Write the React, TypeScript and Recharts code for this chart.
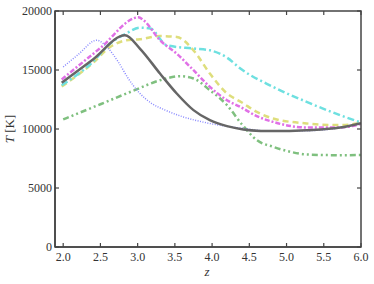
import React from "react";
import { LineChart, Line, XAxis, YAxis } from "recharts";

const grayZ = [1.98, 2.4, 2.83, 3.03, 3.3, 3.525, 3.75, 3.97, 4.2, 4.42, 4.65, 4.82, 5.27, 5.72, 6.0];
const grayT = [13910, 15900, 17940, 16820, 14700, 13010, 11600, 10750, 10240, 9960, 9840, 9820, 9900, 10130, 10500];

const blueZ = [2.0, 2.2, 2.45, 2.605, 2.74, 2.874, 3.01, 3.19, 3.37, 3.6, 3.97, 4.42, 4.82, 5.27, 5.72, 6.0];
const blueT = [15260, 16300, 17520, 16820, 15680, 14280, 13150, 12160, 11600, 11050, 10470, 10050, 9800, 9850, 10100, 10480];

const magZ = [1.98, 2.5, 3.01, 3.08, 3.3, 3.525, 3.75, 3.97, 4.2, 4.38, 4.6, 4.82, 5.27, 5.72, 6.0];
const magT = [14200, 16870, 19460, 19210, 17520, 16390, 14980, 13570, 12440, 11870, 11090, 10600, 10130, 10130, 10440];

const cyanZ = [1.98, 2.4, 2.63, 2.85, 3.03, 3.17, 3.39, 3.75, 3.97, 4.2, 4.38, 4.82, 5.27, 5.72, 6.0];
const cyanT = [13710, 15700, 17240, 18100, 18590, 18510, 17100, 16820, 16670, 16050, 15120, 13570, 12300, 11170, 10550];

const yelZ = [1.98, 2.4, 2.63, 2.85, 3.03, 3.3, 3.525, 3.75, 3.97, 4.2, 4.4, 4.6, 4.82, 5.27, 5.72, 6.0];
const yelT = [13600, 15600, 16950, 17520, 17600, 17880, 17800, 16670, 14700, 13010, 12250, 11450, 10890, 10470, 10330, 10520];

const grnZ = [2.0, 2.5, 2.96, 3.3, 3.57, 3.75, 3.97, 4.2, 4.4, 4.6, 4.82, 5.05, 5.27, 5.72, 6.0];
const grnT = [10810, 12100, 13290, 14130, 14470, 14280, 13290, 12020, 10400, 9060, 8490, 8070, 7840, 7780, 7800];

const xTicks = [2.0, 2.5, 3.0, 3.5, 4.0, 4.5, 5.0, 5.5, 6.0];
const yTicks = [0, 5000, 10000, 15000, 20000];

const mk = (zs: number[], ts: number[]) => zs.map((z, i) => ({ z, T: ts[i] }));

const W = 374;
const H = 284;
const M = { top: 11, right: 13, bottom: 0, left: 0 };
const Y_AXIS_W = 55;
const X_AXIS_H = 37;
const PLOT_LEFT = M.left + Y_AXIS_W;
const PLOT_TOP = M.top;
const PLOT_RIGHT = W - M.right;
const PLOT_BOTTOM = H - M.bottom - X_AXIS_H;

const FONT = "'Liberation Serif', 'DejaVu Serif', serif";
const AXC = "#444";

const BottomTick = (p: any) => (
  <g>
    <line x1={p.x} x2={p.x} y1={p.y} y2={p.y - 4} stroke={AXC} strokeWidth={1.2} />
    <line x1={p.x} x2={p.x} y1={PLOT_TOP} y2={PLOT_TOP + 4} stroke={AXC} strokeWidth={1.2} />
    <text x={p.x} y={p.y + 14} textAnchor="middle" fontFamily={FONT} fontSize={12} fill="#333">
      {Number(p.payload.value).toFixed(1)}
    </text>
  </g>
);
const LeftTick = (p: any) => (
  <g>
    <line x1={p.x} x2={p.x + 4} y1={p.y} y2={p.y} stroke={AXC} strokeWidth={1.2} />
    <line x1={PLOT_RIGHT} x2={PLOT_RIGHT - 4} y1={p.y} y2={p.y} stroke={AXC} strokeWidth={1.2} />
    <text x={p.x - 3} y={p.y + 4} textAnchor="end" fontFamily={FONT} fontSize={12} fill="#333">
      {p.payload.value}
    </text>
  </g>
);

const XLabel = () => (
  <g>
    <rect
      x={PLOT_LEFT}
      y={PLOT_TOP}
      width={PLOT_RIGHT - PLOT_LEFT}
      height={PLOT_BOTTOM - PLOT_TOP}
      fill="none"
      stroke={AXC}
      strokeWidth={1.5}
    />
    <text x={207} y={276} textAnchor="middle" fontFamily={FONT} fontStyle="italic" fontSize={13} fill="#333">
      z
    </text>
  </g>
);

const YLabel = () => (
  <text
    x={14}
    y={129}
    transform="rotate(-90 14 129)"
    textAnchor="middle"
    fontFamily={FONT}
    fontSize={13}
    fill="#333"
  >
    <tspan fontStyle="italic">T</tspan> [K]
  </text>
);

export default function App() {
  return (
    <div style={{ position: "absolute", left: 0, top: 0 }}>
      <LineChart width={W} height={H} margin={M}>
        <XAxis
          type="number"
          dataKey="z"
          domain={[1.89, 6.0]}
          ticks={xTicks}
          allowDataOverflow
          height={X_AXIS_H}
          tickSize={0}
          tickMargin={0}
          tick={<BottomTick />}
          axisLine={{ stroke: AXC, strokeWidth: 1.5 }}
          tickLine={false}
          label={{ content: () => <XLabel /> }}
        />
        <YAxis
          type="number"
          domain={[0, 20000]}
          ticks={yTicks}
          width={Y_AXIS_W}
          tickSize={0}
          tickMargin={0}
          tick={<LeftTick />}
          axisLine={{ stroke: AXC, strokeWidth: 1.5 }}
          tickLine={false}
          label={{ content: () => <YLabel /> }}
        />
        <Line data={mk(yelZ, yelT)} dataKey="T" type="monotone" stroke="#dede7c" strokeWidth={2.5} strokeDasharray="6 4" dot={false} isAnimationActive={false} />
        <Line data={mk(grnZ, grnT)} dataKey="T" type="monotone" stroke="#7fc07f" strokeWidth={2.5} strokeDasharray="6 3 2 3 2 3" dot={false} isAnimationActive={false} />
        <Line data={mk(cyanZ, cyanT)} dataKey="T" type="monotone" stroke="#6ee0e0" strokeWidth={2.5} strokeDasharray="7 3 2 3" dot={false} isAnimationActive={false} />
        <Line data={mk(magZ, magT)} dataKey="T" type="monotone" stroke="#e070e6" strokeWidth={2.5} strokeDasharray="5 2 2 2" dot={false} isAnimationActive={false} />
        <Line data={mk(blueZ, blueT)} dataKey="T" type="monotone" stroke="#8a8aff" strokeWidth={1.5} strokeDasharray="1 1.5" dot={false} isAnimationActive={false} />
        <Line data={mk(grayZ, grayT)} dataKey="T" type="monotone" stroke="#666" strokeWidth={2.5} dot={false} isAnimationActive={false} />
      </LineChart>
    </div>
  );
}
